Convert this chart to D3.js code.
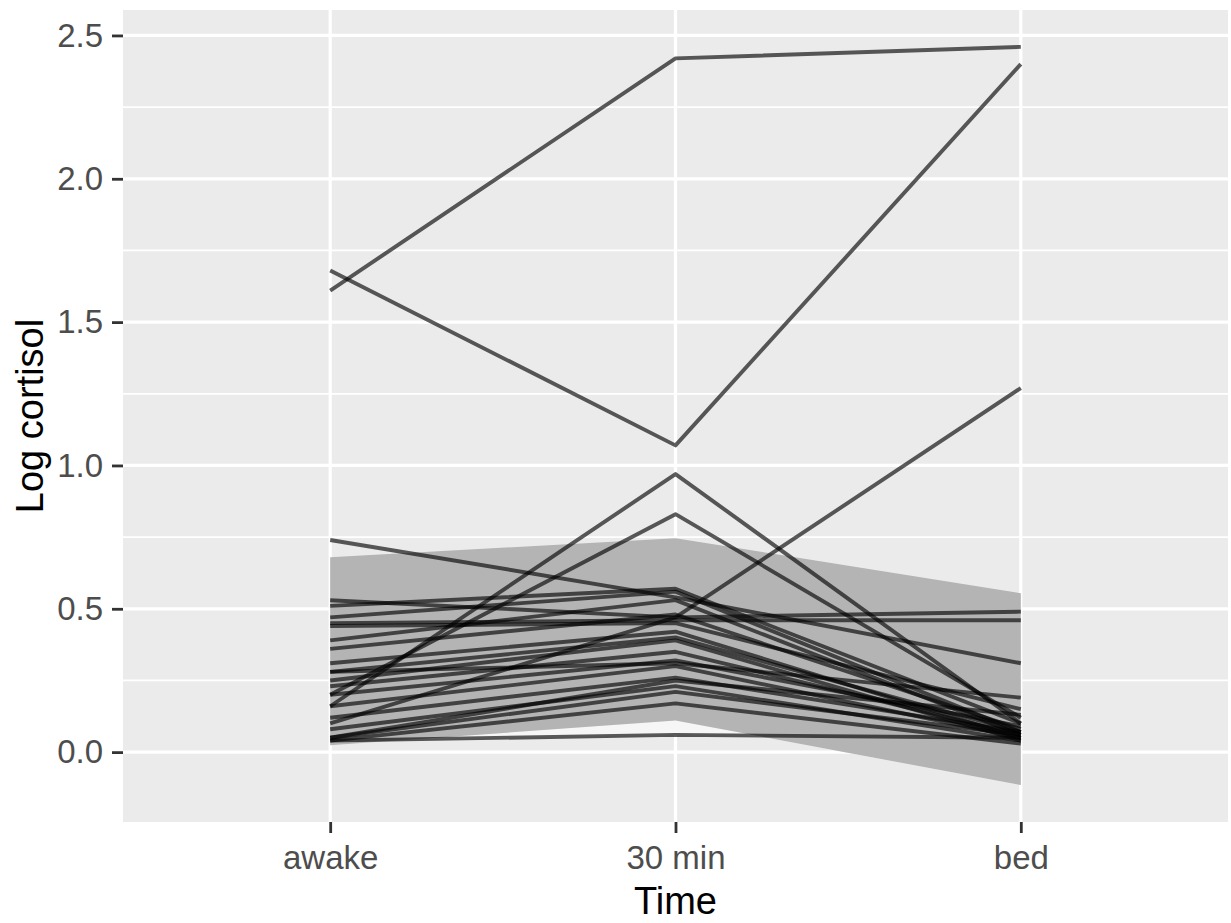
<!doctype html>
<html>
  <head>
    <script src="https://cdnjs.cloudflare.com/ajax/libs/d3/7.8.5/d3.min.js"></script>
    <style>
      body { margin: 0; background: #fff; }
      svg { display: block; }
      rect.panel { fill: #EBEBEB; }
      line.grid-major { stroke: #fff; stroke-width: 3.2; }
      line.grid-minor { stroke: #fff; stroke-width: 1.7; }
      path.band { fill: #B4B4B4; }
      path.band-gap { fill: #F6F6F6; }
      path.subject {
        fill: none;
        stroke: #000;
        stroke-opacity: 0.64;
        stroke-width: 3.9;
        stroke-linejoin: round;
      }
      .axis text {
        font-family: "Liberation Sans", Arial, sans-serif;
        font-size: 33px;
        fill: #4D4D4D;
      }
      .axis line { stroke: #333; stroke-width: 2.8; }
      .axis path { display: none; }
      text.title {
        font-family: "Liberation Sans", Arial, sans-serif;
        font-size: 38px;
        fill: #000;
      }
    </style>
  </head>
  <body>
    <svg width="1231" height="923"></svg>
    <script>
      // time points on the x axis
      var times = ["awake", "30 min", "bed"];

      // log cortisol per subject, one value per time point
      var subjectAwake = [1.61, 1.68, 0.10, 0.16, 0.20, 0.74, 0.53, 0.45, 0.51, 0.47, 0.39, 0.36, 0.31,
                          0.28, 0.25, 0.23, 0.20, 0.16, 0.12, 0.08, 0.05, 0.04, 0.04, 0.28, 0.44, 0.05];
      var subject30 = [2.42, 1.07, 0.47, 0.97, 0.83, 0.54, 0.47, 0.46, 0.57, 0.56, 0.53, 0.48, 0.42,
                       0.40, 0.39, 0.35, 0.32, 0.30, 0.26, 0.23, 0.21, 0.17, 0.06, 0.31, 0.45, 0.25];
      var subjectBed = [2.46, 2.40, 1.27, 0.10, 0.12, 0.31, 0.49, 0.46, 0.10, 0.07, 0.06, 0.08, 0.05,
                        0.07, 0.04, 0.06, 0.09, 0.05, 0.07, 0.04, 0.06, 0.03, 0.05, 0.19, 0.15, 0.13];

      // shaded band
      var bandLower = [0.024, 0.11, -0.115];
      var bandUpper = [0.68, 0.746, 0.554];

      var yTicks = [0, 0.5, 1.0, 1.5, 2.0, 2.5];
      var yMinor = [0.25, 0.75, 1.25, 1.75, 2.25];

      var svg = d3.select("svg");
      var panel = { left: 123, right: 1228, top: 10, bottom: 822 };

      var x = d3.scalePoint()
        .domain(times)
        .range([panel.left, panel.right])
        .padding(0.6);

      // ggplot style 5% expansion around the data range
      var allValues = subjectAwake.concat(subject30, subjectBed, bandLower, bandUpper);
      var ext = d3.extent(allValues);
      var pad = (ext[1] - ext[0]) * 0.05;
      var y = d3.scaleLinear()
        .domain([ext[0] - pad, ext[1] + pad])
        .range([panel.bottom, panel.top]);

      svg.append("rect")
          .attr("class", "panel")
          .attr("x", panel.left)
          .attr("y", panel.top)
          .attr("width", panel.right - panel.left)
          .attr("height", panel.bottom - panel.top);

      svg.selectAll("line.grid-minor").data(yMinor)
        .enter()
        .append("line")
          .attr("class", "grid-minor")
          .attr("x1", panel.left)
          .attr("x2", panel.right)
          .attr("y1", d => y(d))
          .attr("y2", d => y(d));

      svg.selectAll("line.grid-major.h").data(yTicks)
        .enter()
        .append("line")
          .attr("class", "grid-major h")
          .attr("x1", panel.left)
          .attr("x2", panel.right)
          .attr("y1", d => y(d))
          .attr("y2", d => y(d));

      svg.selectAll("line.grid-major.v").data(times)
        .enter()
        .append("line")
          .attr("class", "grid-major v")
          .attr("x1", d => x(d))
          .attr("x2", d => x(d))
          .attr("y1", panel.top)
          .attr("y2", panel.bottom);

      var bandData = times.map((t, i) => ({ t: t, lo: bandLower[i], hi: bandUpper[i] }));

      // light gap under the band, above the flattest subject line
      var flat = subjectAwake.length - 4;
      var gapData = times.map((t, i) => ({
        t: t,
        lo: [subjectAwake, subject30, subjectBed][i][flat],
        hi: bandLower[i]
      }));

      svg.append("path")
          .datum(gapData)
          .attr("class", "band-gap")
          .attr("d", d3.area()
            .x(d => x(d.t))
            .y0(d => y(d.lo))
            .y1(d => y(d.hi)));

      svg.append("path")
          .datum(bandData)
          .attr("class", "band")
          .attr("d", d3.area()
            .x(d => x(d.t))
            .y0(d => y(d.lo))
            .y1(d => y(d.hi)));

      var subjects = subjectAwake.map((v, i) => [
        { t: times[0], v: v },
        { t: times[1], v: subject30[i] },
        { t: times[2], v: subjectBed[i] }
      ]);

      var line = d3.line()
        .x(d => x(d.t))
        .y(d => y(d.v));

      svg.selectAll("path.subject").data(subjects)
        .enter()
        .append("path")
          .attr("class", "subject")
          .attr("d", line);

      svg.append("g")
          .attr("class", "axis")
          .attr("transform", "translate(" + panel.left + ",0)")
          .call(d3.axisLeft(y)
            .tickValues(yTicks)
            .tickFormat(d3.format(".1f"))
            .tickSize(11)
            .tickPadding(9));

      svg.append("g")
          .attr("class", "axis")
          .attr("transform", "translate(0," + panel.bottom + ")")
          .call(d3.axisBottom(x)
            .tickSize(11)
            .tickPadding(13));

      svg.append("text")
          .attr("class", "title")
          .attr("x", (panel.left + panel.right) / 2)
          .attr("y", 914)
          .attr("text-anchor", "middle")
          .text("Time");

      svg.append("text")
          .attr("class", "title")
          .attr("transform", "translate(43," + (panel.top + panel.bottom) / 2 + ") rotate(-90)")
          .attr("text-anchor", "middle")
          .text("Log cortisol");
    </script>
  </body>
</html>
